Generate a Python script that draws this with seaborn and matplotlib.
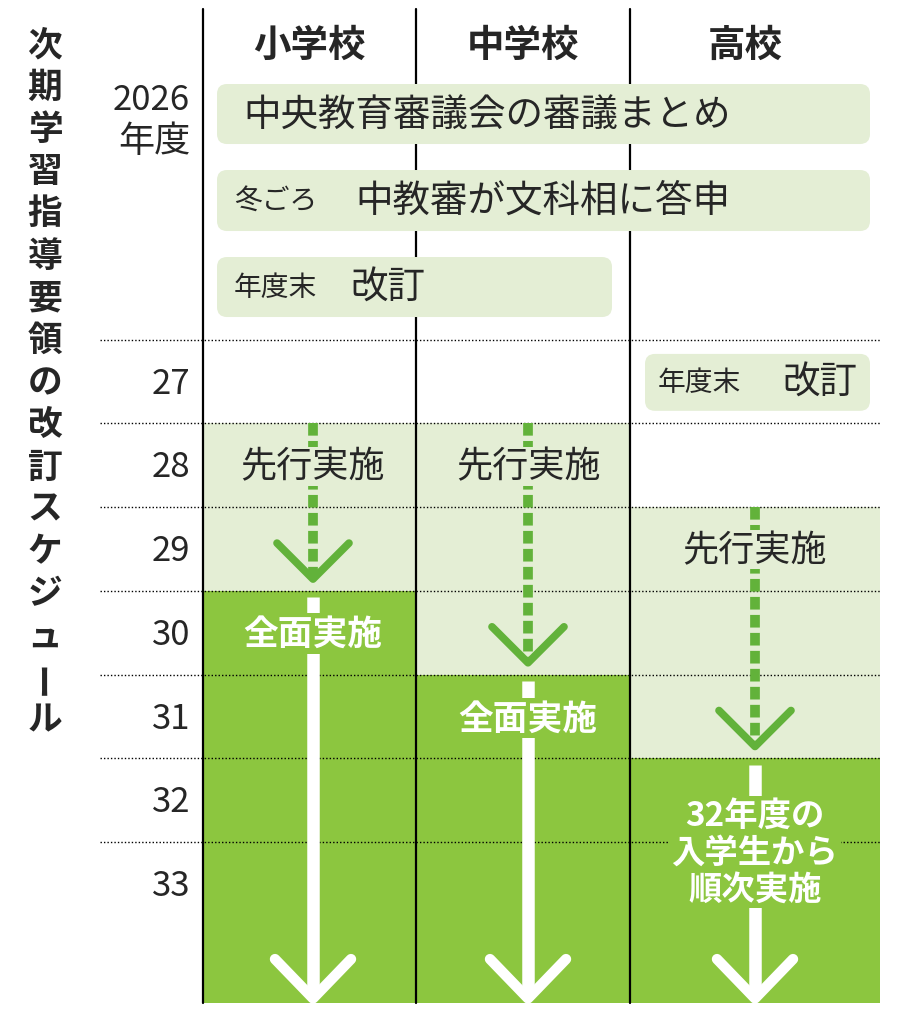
import matplotlib
matplotlib.use("Agg")
import matplotlib.pyplot as plt
import seaborn as sns
from matplotlib.patches import FancyBboxPatch, Rectangle

sns.set_theme(style="white")
plt.rcParams['font.family'] = ['Noto Sans CJK JP', 'DejaVu Sans']

# ---- data ----
title = "次期学習指導要領の改訂スケジュール"
schools = ["小学校", "中学校", "高校"]
year_rows = [27, 28, 29, 30, 31, 32, 33]
year_labels = ["27", "28", "29", "30", "31", "32", "33"]
pre_start = [28, 28, 29]        # 先行実施 start year
full_start = [30, 31, 32]       # 全面実施 start year
pre_label = ["先行実施", "先行実施", "先行実施"]
full_label = ["全面実施", "全面実施", "32年度の\n入学生から\n順次実施"]
events_2026 = [("", "中央教育審議会の審議まとめ"), ("冬ごろ", "中教審が文科相に答申"), ("年度末", "改訂")]
event_2027_high = ("年度末", "改訂")

# ---- style ----
LIGHT = "#e4eed5"
DARK = "#8cc63f"
DASH = "#62b23a"
col_edges = [203, 416, 630, 880]
arrow_x = [313, 528, 755]
Y_TOP, Y_BOT = 22.93, 35.02
PX = 83.7  # px per year row

def py(px):
    return Y_TOP + px / PX

fig = plt.figure(figsize=(9, 10.12), dpi=100)
ax = fig.add_axes([0, 0, 1, 1])
ax.set_xlim(0, 900)
ax.set_ylim(Y_BOT, Y_TOP)
ax.axis("off")
aspect = 1 / PX
bottom = 34.93

# fills
for i in range(3):
    x0, x1 = col_edges[i], col_edges[i + 1]
    ax.add_patch(Rectangle((x0, pre_start[i]), x1 - x0, full_start[i] - pre_start[i], color=LIGHT, lw=0, zorder=1))
    ax.add_patch(Rectangle((x0, full_start[i]), x1 - x0, bottom - full_start[i], color=DARK, lw=0, zorder=1))

# dotted row lines
for y in year_rows:
    ax.plot([100, 880], [y, y], color="black", ls=(0, (1, 1.5)), lw=1, zorder=2)
# column lines
for x in col_edges[:3]:
    ax.plot([x, x], [py(10), bottom], color="black", lw=1.6, zorder=3)

# headers
for i, s in enumerate(schools):
    ax.text((col_edges[i] + col_edges[i + 1]) / 2 - (10 if i == 2 else 0), py(45), s,
            ha="center", va="center", fontsize=27, fontweight="bold", zorder=5)

# year labels
ax.text(190, py(100), "2026", ha="right", va="center", fontsize=25, zorder=5)
ax.text(190, py(142), "年度", ha="right", va="center", fontsize=26, zorder=5)
for y, lab in zip(year_rows, year_labels):
    ax.text(190, y + 0.52, lab, ha="right", va="center", fontsize=25, zorder=5)

# title (vertical)
step = 42.2
for k, ch in enumerate(title):
    ax.text(45, py(45 + k * step), ch, ha="center", va="center", fontsize=25,
            fontweight="bold", rotation=(90 if ch == "ー" else 0), zorder=5)

def box(x0, x1, y0, y1):
    ax.add_patch(FancyBboxPatch((x0, y0), x1 - x0, y1 - y0,
                                boxstyle="round,pad=0,rounding_size=10",
                                mutation_aspect=aspect, fc=LIGHT, ec="none", zorder=4))

box_rows = [(85, 145, 870), (171, 232, 870), (258, 318, 612)]
for (small, big), (a, b, xr) in zip(events_2026, box_rows):
    box(217, xr, py(a), py(b))
    yc = py((a + b) / 2)
    if small:
        ax.text(234, yc, small, ha="left", va="center", fontsize=20, zorder=5)
        ax.text(350 if big == "改訂" else 355, yc, big, ha="left", va="center", fontsize=27, zorder=5)
    else:
        ax.text(243, yc, big, ha="left", va="center", fontsize=27, zorder=5)
box(645, 870, 27.17, 27.85)
ax.text(658, 27.51, event_2027_high[0], ha="left", va="center", fontsize=20, zorder=5)
ax.text(782, 27.51, event_2027_high[1], ha="left", va="center", fontsize=27, zorder=5)

# arrows
for i in range(3):
    x = arrow_x[i]
    apex = full_start[i] - 0.14
    ax.plot([x, x], [pre_start[i], apex - 0.05], color=DASH, lw=7, ls=(0, (1.3, 0.55)),
            solid_capstyle="butt", dash_capstyle="butt", zorder=3)
    ax.plot([x - 36, x, x + 36], [apex - 0.43, apex, apex - 0.43], color=DASH, lw=5.5, zorder=3)
    ax.plot([x, x], [full_start[i] + 0.08, 34.85], color="white", lw=9, solid_capstyle="butt", zorder=3)
    ax.plot([x - 38, x, x + 38], [34.4, 34.87, 34.4], color="white", lw=7.5, zorder=3)
    pre_y = pre_start[i] + 0.51
    ax.text(x, pre_y, pre_label[i], ha="center", va="center", fontsize=26, zorder=5,
            bbox=dict(fc=LIGHT, ec="none", pad=1))

ax.text(arrow_x[0], 30.51, full_label[0], ha="center", va="center", fontsize=25, color="white",
        fontweight="bold", zorder=5, bbox=dict(fc=DARK, ec="none", pad=2))
ax.text(arrow_x[1], 31.52, full_label[1], ha="center", va="center", fontsize=25, color="white",
        fontweight="bold", zorder=5, bbox=dict(fc=DARK, ec="none", pad=2))
ax.text(arrow_x[2], 33.12, full_label[2], ha="center", va="center", fontsize=24, color="white",
        fontweight="bold", linespacing=1.15, zorder=5, bbox=dict(fc=DARK, ec="none", pad=2))

fig.savefig("out.png", dpi=100, facecolor="white")
